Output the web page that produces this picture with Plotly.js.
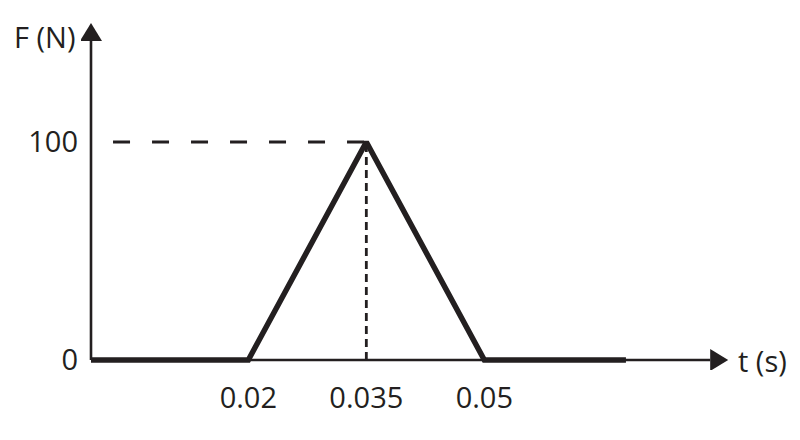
<!DOCTYPE html>
<html>
<head>
<meta charset="utf-8">
<script src="https://cdn.plot.ly/plotly-3.0.1.min.js"></script>
<style>html,body{margin:0;padding:0;background:#fff;}#chart{width:800px;height:440px;}</style>
</head>
<body>
<div id="chart"></div>
<script>
// Data
const timeS = [0, 0.02, 0.035, 0.05, 0.068];
const forceN = [0, 0, 100, 0, 0];
const peakT = 0.035;
const peakF = 100;
const guideStartT = 0.0028;
const xTickVals = [0.02, 0.035, 0.05];
const xTickText = ['0.02', '0.035', '0.05'];
const yTickVals = [0, 100];
const yTickText = ['0', '100'];
const xAxisEnd = 0.081;   // arrow tip on t axis
const yAxisEnd = 154.6;   // arrow tip on F axis

const ink = '#231f20';
const font = {family: 'Open Sans, Lato, sans-serif', size: 29, color: ink};

// scale helpers (pixels per data unit) for arrowhead sizes
const pxX = 7866.7, pxY = 2.18;
const headLen = 18, headHalf = 11;
const hx = headHalf / pxX, hy = headHalf / pxY;
const lx = headLen / pxX, ly = headLen / pxY;

const traces = [
  {x: [guideStartT, peakT], y: [peakF, peakF], mode: 'lines',
   line: {color: ink, width: 2.8, dash: '17px,22px'}, hoverinfo: 'skip'},
  {x: [peakT, peakT], y: [0, peakF], mode: 'lines',
   line: {color: ink, width: 2.8, dash: '8px,5px'}, hoverinfo: 'skip'},
  {x: timeS, y: forceN, mode: 'lines',
   line: {color: ink, width: 5.5, shape: 'linear'}, hoverinfo: 'skip'}
];

const shapes = [
  // t axis
  {type: 'line', xref: 'x', yref: 'y', x0: 0, y0: 0, x1: xAxisEnd - lx, y1: 0,
   line: {color: ink, width: 2.4}, layer: 'below'},
  {type: 'path', xref: 'x', yref: 'y',
   path: `M ${xAxisEnd} 0 L ${xAxisEnd - lx} ${hy} L ${xAxisEnd - lx} ${-hy} Z`,
   fillcolor: ink, line: {width: 0}},
  // F axis
  {type: 'line', xref: 'x', yref: 'y', x0: 0, y0: 0, x1: 0, y1: yAxisEnd - ly,
   line: {color: ink, width: 2.6}, layer: 'below'},
  {type: 'path', xref: 'x', yref: 'y',
   path: `M 0 ${yAxisEnd} L ${-hx} ${yAxisEnd - ly} L ${hx} ${yAxisEnd - ly} Z`,
   fillcolor: ink, line: {width: 0}}
];

const layout = {
  width: 800, height: 440,
  margin: {l: 81, r: 40, t: 15, b: 70},
  paper_bgcolor: '#fff', plot_bgcolor: '#fff',
  showlegend: false,
  font: font,
  xaxis: {
    range: [-10 / pxX, (760 - 91) / pxX],
    showgrid: false, zeroline: false, showline: false,
    tickvals: xTickVals, ticktext: xTickText, ticks: '',
    ticklabelstandoff: 8, tickfont: font, fixedrange: true
  },
  yaxis: {
    range: [-10 / pxY, (360 - 15) / pxY],
    showgrid: false, zeroline: false, showline: false,
    tickvals: yTickVals, ticktext: yTickText, ticks: '',
    ticklabelstandoff: 2, tickfont: font, fixedrange: true
  },
  shapes: shapes,
  annotations: [
    {text: 'F (N)', xref: 'paper', yref: 'paper', x: (77 - 81) / 679, y: (370 - 36) / 355,
     xanchor: 'right', yanchor: 'middle', showarrow: false, font: font},
    {text: 't (s)', xref: 'x', yref: 'y', x: (736 - 91) / pxX, y: 0,
     xanchor: 'left', yanchor: 'middle', showarrow: false, font: font}
  ]
};

Plotly.newPlot('chart', traces, layout, {staticPlot: true, displayModeBar: false});
</script>
</body>
</html>
